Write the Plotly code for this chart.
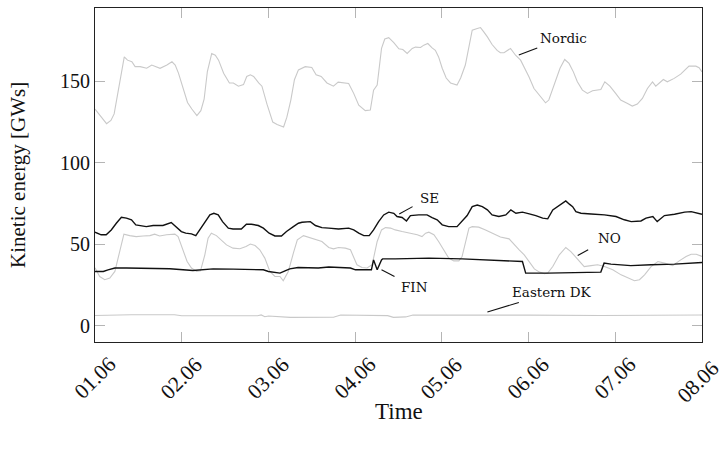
import plotly.graph_objects as go

# ---- data (hours since 01.06 00:00, kinetic energy in GWs) ----
nordic_t = [0, 3.2, 4.4, 5.3, 6.5, 7.4, 8.1, 9.0, 10.2, 11.1, 12.5, 14.3, 15.7, 18.0, 19.9, 21.3, 22.2, 23.1,
            24.5, 25.6, 26.8, 28.2, 29.3, 30.2, 31.1, 32.3, 33.3, 34.2, 35.6, 37.2, 38.3, 39.7, 41.1, 42.0, 43.0,
            43.9, 45.3, 46.2, 47.6, 49.2, 50.4, 52.2, 53.1, 54.2, 55.2, 56.3, 58.2, 60.0, 61.2, 62.6, 64.2, 66.0,
            67.3, 69.1, 70.2, 71.6, 73.0, 74.8, 76.2, 77.1, 78.1, 79.3, 80.2, 81.3, 82.7, 84.1, 85.2, 86.4, 87.8,
            88.7, 90.1, 91.0, 92.1, 93.3, 94.2, 95.1, 96.1, 97.2, 98.4, 100.2, 101.2, 102.5, 103.5, 104.4, 105.8,
            106.7, 107.6, 108.6, 109.9, 111.3, 112.2, 113.2, 115.0, 116.4, 117.8, 119.2, 120.1, 121.5, 122.9,
            124.7, 125.6, 127.0, 128.7, 130.0, 131.2, 132.4, 133.5, 134.9, 136.3, 137.7, 140.0, 141.1, 142.5,
            144.1, 145.5, 147.4, 148.7, 150.1, 151.5, 152.9, 154.3, 155.2, 156.2, 157.3, 158.4, 160.3, 162.1,
            163.5, 164.4, 166.3, 167.2, 168.0]
nordic_v = [133, 124, 126, 130, 145, 157, 165, 163, 162, 159, 159, 158, 160, 158, 160, 162, 160, 155,
            145, 137, 133, 129, 132, 139, 156, 167, 166, 163, 155, 149, 149, 147, 148, 153, 154,
            153, 149, 147, 136, 125, 123.5, 122, 128, 138.5, 151, 157, 159, 158.5, 154, 153, 149, 147,
            149.5, 149, 148.7, 142.6, 135.4, 132, 132.4, 144.6, 147.7, 170.2, 176, 176.8, 173.8, 170, 169.5, 167.1, 170.2,
            171, 170.8, 172.2, 173.2, 170.5, 169, 165, 158, 152, 149, 147.7, 152, 160, 172, 181.4, 182.4,
            183, 180.3, 177.3, 172.6, 169, 167.5, 167.5, 170.2, 166, 163, 157, 152.8, 145.6, 141.5,
            136.8, 138.5, 147.7, 158, 163.4, 161, 155.8, 149.7, 144.6, 142.6, 144.2, 145, 149.7, 147,
            142.6, 138.5, 136.4, 134.8, 136, 139.5, 145.6, 149.7, 147, 148.7, 151.1, 149.7, 151.8, 154.4,
            157.3, 159.3, 159.3, 158.3, 155.8]

se_t = [0, 1.7, 3.1, 4.5, 5.9, 7.3, 8.7, 10.1, 11.3, 12.8, 14.2, 16.1, 18.8, 21.1, 22.5, 23.9, 25.1, 26.7,
        27.9, 29.0, 30.4, 31.8, 32.9, 34.1, 35.3, 36.9, 38.2, 40.5, 41.9, 43.3, 45.2, 46.6, 48.2, 49.8, 51.6,
        53.0, 54.9, 56.3, 57.3, 59.6, 61.0, 62.8, 64.7, 67.4, 70.2, 71.6, 73.0, 74.4, 75.9, 77.1, 78.5, 79.9,
        81.3, 82.7, 83.6, 85.0, 86.2, 87.3, 89.6, 91.9, 93.3, 94.7, 96.1, 97.9, 100.2, 101.6, 103.0, 104.4,
        105.8, 107.2, 108.6, 109.9, 111.8, 113.7, 115.1, 116.5, 118.3, 120.2, 122.0, 123.9, 125.3, 126.7,
        128.0, 129.4, 130.3, 131.3, 132.2, 133.1, 134.5, 137.3, 141.0, 144.2, 146.5, 148.4, 151.1, 152.5,
        154.4, 155.6, 156.7, 157.6, 160.4, 163.2, 165.0, 166.8, 168.0]
se_v = [57.4, 55.8, 55.8, 58.8, 62.9, 66.6, 66, 65, 61.9, 61.5, 60.8, 61.5, 61.5, 63.3, 60.8, 57.8, 56.8, 56.4,
        55.3, 58.8, 63.9, 68, 69, 68, 63.9, 59.9, 59.4, 59.4, 62.3, 62.3, 61.5, 59.9, 56.8, 55.1, 55.1,
        57.8, 60.8, 62.9, 63.5, 63.9, 61.5, 60.2, 59.9, 59.4, 59.9, 58.8, 56.8, 55.3, 55.3, 58.8, 63.9, 68,
        69.7, 69, 67, 66.4, 64.3, 67.6, 68, 68, 66.4, 65, 61.9, 60.8, 60.8, 63.9, 67.6, 73.1,
        74.1, 73.1, 71.1, 68, 67, 68, 71.1, 69, 69.7, 68.6, 67.6, 66, 65.6, 71.1,
        73.1, 75.2, 76.6, 74.6, 73.1, 70, 69, 68.6, 68, 67, 65, 63.9, 64.3, 66,
        67, 63.9, 66, 67.6, 68.4, 69.7, 70, 69, 68.4]

no_t = [0, 1.3, 2.7, 4.1, 5.5, 6.8, 8.0, 9.6, 11.4, 13.3, 15.2, 16.5, 17.9, 19.8, 22.1, 23.0, 24.2, 25.5,
        26.7, 28.1, 29.2, 30.4, 31.3, 32.2, 33.6, 35.0, 36.4, 38.2, 40.1, 41.8, 43.0, 44.3, 45.6, 47.0, 48.4,
        49.8, 51.2, 52.1, 53.5, 54.9, 56.0, 57.7, 59.6, 61.4, 62.8, 64.7, 66.0, 67.4, 69.3, 70.7, 71.6, 72.5,
        73.9, 75.3, 76.7, 78.1, 79.3, 80.4, 81.8, 83.1, 85.0, 87.3, 89.2, 90.5, 91.5, 92.4, 93.8, 95.1, 96.5,
        97.9, 99.3, 100.7, 101.6, 102.5, 103.5, 104.4, 106.2, 108.1, 109.9, 112.2, 114.6, 116.0, 117.4,
        118.8, 120.2, 121.6, 123.0, 124.4, 125.3, 126.7, 128.5, 130.3, 131.7, 133.6, 135.4, 137.3, 139.1,
        141.0, 143.3, 145.6, 147.4, 149.3, 150.7, 152.1, 153.9, 155.8, 157.6, 159.9, 161.7, 163.6, 165.0,
        166.4, 168.0]
no_v = [35.5, 30.2, 28.2, 29.2, 33.3, 45.5, 56.2, 55.3, 54.7, 55.1, 55.3, 56.2, 55.1, 55.8, 56.2, 54.7, 47.6, 39.4,
        35.4, 33.3, 33.7, 43.5, 53.7, 56.8, 55.3, 52.7, 49.6, 47.6, 47.2, 48.6, 50.1, 49.2, 46.6, 41.5, 33.3,
        30.2, 30.2, 27.6, 33.3, 44.5, 52.7, 55.3, 54.1, 52.7, 51.7, 48, 47.2, 48, 47.6, 46.6, 42.5, 37.4,
        35.7, 35.4, 37.4, 51.7, 58.8, 60.2, 59.9, 58.8, 57.8, 56.8, 55.8, 54.7, 56.8, 57.4, 55.8, 51.7, 46.6,
        41.5, 39.8, 39.8, 42.5, 51.7, 59.9, 60.8, 60.5, 58.8, 56.8, 54.4, 53.3, 49.6, 46.6,
        43.5, 39.4, 34.9, 32.9, 31.9, 32.3, 36.3, 43.5, 48, 45.5, 40.4, 36.3, 36.9, 37.4,
        36.3, 34.3, 31.2, 29.2, 27.6, 28.2, 31.2, 36.3, 39.4, 38.4, 36.9, 39.8, 42.5, 43.9,
        43.9, 42.5]

fin_t = [0, 2.3, 3.6, 5.5, 8.7, 20.7, 27.1, 29.9, 32.7, 38.2, 46.6, 48.0, 49.8, 51.2, 52.6, 53.9, 56.2, 59.0,
         61.8, 64.7, 67.4, 70.7, 72.1, 76.5, 77.1, 78.1, 79.3, 79.6, 83.1, 92.4, 101.6, 109.0, 111.4, 118.3,
         119.2, 125.3, 140.0, 140.9, 142.8, 148.3, 153.9, 160.4, 168.0]
fin_v = [33.3, 33.3, 34.3, 35.4, 35.4, 35.0, 33.9, 34.3, 34.9, 34.7, 34.3, 33.3, 32.7, 32.3, 33.7, 34.9, 35.7, 35.7,
         35.4, 36, 35.7, 35.4, 34.3, 34.3, 40.4, 34.3, 40.4, 41, 41, 41.5, 41, 40.4, 39.8, 39.4,
         32.3, 32.3, 32.9, 38.4, 37.8, 36.9, 37.4, 37.8, 38.8]

dk_t = [0, 10, 22, 24, 45, 46, 47, 48, 54, 66, 68, 81, 82.6, 86, 88, 100, 120, 140, 168]
dk_v = [6.3, 6.7, 6.7, 6.1, 6.1, 6.6, 5.5, 6.0, 5.1, 5.2, 6.6, 6.2, 5.1, 5.4, 6.6, 6.4, 6.5, 6.3, 6.6]

tick_hours = [0, 24, 48, 72, 96, 120, 144, 168]
tick_labels = ["01.06", "02.06", "03.06", "04.06", "05.06", "06.06", "07.06", "08.06"]
y_ticks = [0, 50, 100, 150]

GRAY = "#c9c9c9"
BLACK = "#111111"
SERIF = "Liberation Serif"
SMALL = "DejaVu Serif"

fig = go.Figure()
for t, v, c, w in [(nordic_t, nordic_v, GRAY, 1.1), (no_t, no_v, GRAY, 1.1), (dk_t, dk_v, GRAY, 1.1),
                   (se_t, se_v, BLACK, 1.4), (fin_t, fin_v, BLACK, 1.4)]:
    fig.add_trace(go.Scatter(x=t, y=v, mode="lines", line=dict(color=c, width=w), showlegend=False,
                             hoverinfo="skip"))

# labels with leader lines: (x0, y0, x1, y1, text, tx, ty, anchor)
labels = [
    (117.3, 166.1, 122.4, 170.5, "Nordic", 122.6, 176.5, "left"),
    (84.2, 68.6, 87.9, 73.1, "SE", 92.6, 78.2, "center"),
    (79.3, 34.3, 82.9, 30.2, "FIN", 88.4, 23.5, "center"),
    (133.6, 43.1, 136.5, 46.6, "NO", 142.4, 53.7, "center"),
    (108.6, 8.4, 117.3, 14.3, "Eastern DK", 126.4, 20.4, "center"),
]
for x0, y0, x1, y1, txt, tx, ty, anc in labels:
    fig.add_shape(type="line", x0=x0, y0=y0, x1=x1, y1=y1, line=dict(color=BLACK, width=1.1))
    fig.add_annotation(x=tx, y=ty, text=txt, showarrow=False, xanchor=anc, yanchor="middle",
                       font=dict(family=SMALL, size=13.5, color=BLACK))

# rotated x tick labels centred under each tick (last one nudged along its baseline to stay in frame)
for i, (h, lab) in enumerate(zip(tick_hours, tick_labels)):
    last = i == len(tick_hours) - 1
    fig.add_annotation(x=h, xref="x", y=-0.108, yref="paper", text=lab, textangle=-45, showarrow=False,
                       xanchor="center", yanchor="middle", xshift=-4 if last else 0, yshift=-4 if last else 0,
                       font=dict(family=SERIF, size=21.5, color=BLACK))

# axis titles
fig.add_annotation(x=0.5, xref="paper", y=-0.2066, yref="paper", text="Time", showarrow=False,
                   xanchor="center", yanchor="middle", font=dict(family=SERIF, size=23, color=BLACK))
fig.add_annotation(x=-0.1269, xref="paper", y=0.5, yref="paper", text="Kinetic energy [GWs]", textangle=-90,
                   showarrow=False, xanchor="center", yanchor="middle",
                   font=dict(family=SERIF, size=21, color=BLACK))

axis_common = dict(showgrid=False, zeroline=False, showline=True, linecolor="#222222", linewidth=1.2,
                   mirror="allticks", ticks="inside", ticklen=10, tickwidth=1.3, tickcolor="#b5b5b5",
                   tickfont=dict(family=SERIF, size=20, color=BLACK))

fig.update_xaxes(range=[0, 168], tickmode="array", tickvals=tick_hours, showticklabels=False, **axis_common)
fig.update_yaxes(range=[-10, 195], tickmode="array", tickvals=y_ticks, **axis_common)

fig.update_layout(width=726, height=449, margin=dict(l=95, r=24, t=8, b=107),
                  plot_bgcolor="white", paper_bgcolor="white")

fig.write_html("out.html")
